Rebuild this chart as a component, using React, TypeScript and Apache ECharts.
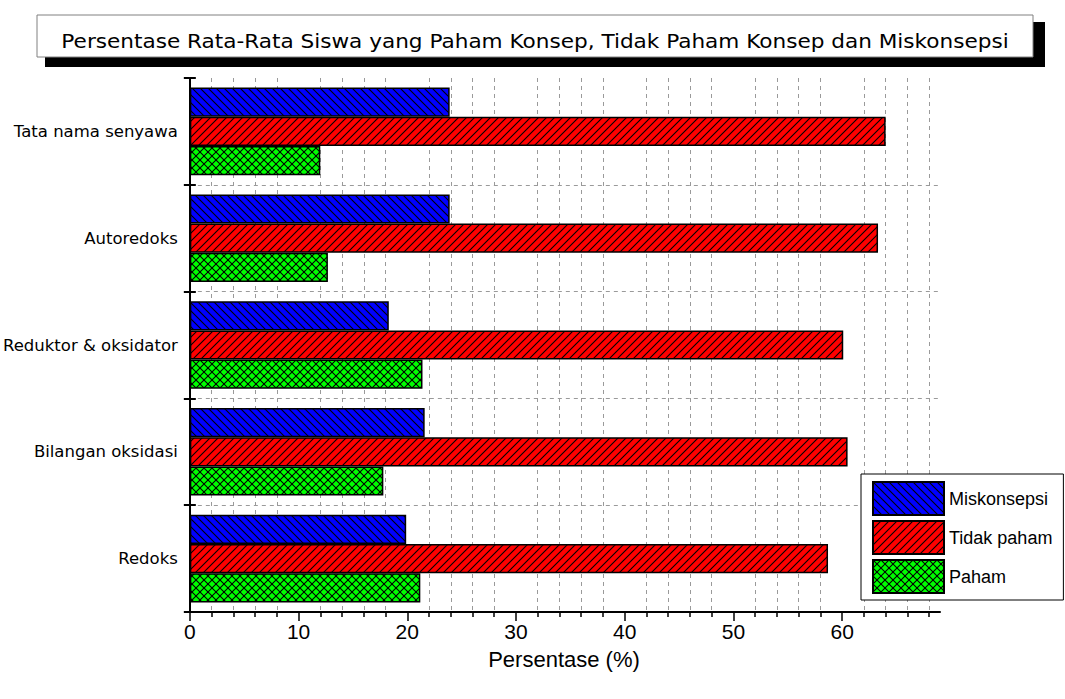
import React, { useEffect, useRef } from "react";
import * as echarts from "echarts";

const categories = ["Redoks", "Bilangan oksidasi", "Reduktor & oksidator", "Autoredoks", "Tata nama senyawa"];
const miskonsepsi = [19.9, 21.6, 18.3, 23.9, 23.9];
const tidakPaham = [58.7, 60.5, 60.1, 63.3, 64.0];
const paham = [21.2, 17.8, 21.4, 12.7, 12.0];
const seriesNames = ["Miskonsepsi", "Tidak paham", "Paham"];
const majorTicks = [0, 10, 20, 30, 40, 50, 60];
const minorTicks = [2, 4, 6, 8, 12, 14, 16, 18, 22, 24, 26, 28, 32, 34, 36, 38, 42, 44, 46, 48, 52, 54, 56, 58, 62, 64, 66, 68];
const titleText = "Persentase Rata-Rata Siswa yang Paham Konsep, Tidak Paham Konsep dan Miskonsepsi";
const xAxisTitle = "Persentase (%)";

function makeHatch(bg: string, kind: "back" | "fwd" | "cross") {
  const s = 8;
  const c = document.createElement("canvas");
  c.width = s;
  c.height = s;
  const ctx = c.getContext("2d")!;
  ctx.fillStyle = bg;
  ctx.fillRect(0, 0, s, s);
  ctx.strokeStyle = "#000";
  ctx.lineWidth = 1.1;
  const back = () => {
    for (const k of [-s, 0, s]) {
      ctx.beginPath();
      ctx.moveTo(-2, -2 + k);
      ctx.lineTo(s + 2, s + 2 + k);
      ctx.stroke();
    }
  };
  const fwd = () => {
    for (const k of [-s, 0, s]) {
      ctx.beginPath();
      ctx.moveTo(-2, s + 2 + k);
      ctx.lineTo(s + 2, -2 + k);
      ctx.stroke();
    }
  };
  if (kind === "back" || kind === "cross") back();
  if (kind === "fwd" || kind === "cross") fwd();
  return { image: c, repeat: "repeat" } as any;
}

export default function App() {
  const ref = useRef<HTMLDivElement>(null);
  useEffect(() => {
    if (!ref.current) return;
    const chart = echarts.init(ref.current, null, { renderer: "svg" });
    const bluePat = makeHatch("#0000ff", "back");
    const redPat = makeHatch("#ff0000", "fwd");
    const greenPat = makeHatch("#00ff00", "cross");
    const grid = "#9a9a9a";
    const mk = (name: string, data: number[], color: any) => ({
      type: "bar",
      name,
      data,
      xAxisIndex: 2,
      yAxisIndex: 0,
      barGap: "0%",
      barCategoryGap: "18%",
      itemStyle: { color, borderColor: "#000", borderWidth: 1.5 },
      emphasis: { disabled: true },
    });
    const baseX = { type: "value", min: 0, max: 69, position: "bottom", gridIndex: 0 };
    chart.setOption({
      animation: false,
      grid: { left: 188, right: 125, top: 78, bottom: 87, containLabel: false },
      legend: {
        orient: "vertical",
        left: 861,
        top: 474,
        data: seriesNames,
        backgroundColor: "#fff",
        borderColor: "#000",
        borderWidth: 1,
        borderRadius: 0,
        padding: [7, 11, 6, 11],
        itemWidth: 71,
        itemHeight: 33,
        itemGap: 4,
        icon: "rect",
        selectedMode: false,
        itemStyle: { borderColor: "#000", borderWidth: 2 },
        textStyle: { fontFamily: "Liberation Sans", fontSize: 18, color: "#000" },
      },
      xAxis: [
        {
          ...baseX,
          interval: 2,
          axisLine: { show: false },
          axisTick: { show: false },
          axisLabel: { show: false },
          splitLine: {
            show: true,
            showMinLine: true,
            showMaxLine: true,
            lineStyle: { color: ["transparent", grid, grid, grid, grid], type: [4, 4], width: 1 },
          },
        },
        {
          ...baseX,
          interval: 2,
          axisLine: { show: false },
          axisTick: { show: true, length: 5, customValues: minorTicks, lineStyle: { color: "#000", width: 1.5 } },
          axisLabel: { show: false },
          splitLine: { show: false },
        },
        {
          ...baseX,
          interval: 10,
          axisLine: { show: true, onZero: false, lineStyle: { color: "#000", width: 2 } },
          axisTick: { show: true, length: 9, customValues: majorTicks, lineStyle: { color: "#000", width: 1.5 } },
          axisLabel: {
            show: true,
            customValues: majorTicks,
            margin: 9,
            color: "#000",
            fontFamily: "Liberation Sans",
            fontSize: 21,
          },
          splitLine: { show: false },
        },
      ],
      yAxis: [
        {
          type: "category",
          data: categories,
          position: "left",
          axisLine: { show: true, onZero: false, lineStyle: { color: "#000", width: 2 } },
          axisTick: { show: true, length: 6, lineStyle: { color: "#000", width: 2 } },
          axisLabel: { margin: 12, color: "#000", fontFamily: "DejaVu Sans", fontSize: 16.5 },
          splitLine: {
            show: true,
            lineStyle: { color: ["transparent", grid, grid, grid, grid, "transparent"], type: [4, 4], width: 1 },
          },
        },
        {
          type: "category",
          data: categories,
          position: "left",
          axisLine: { show: false },
          axisTick: { show: true, inside: true, length: 6, lineStyle: { color: "#000", width: 2 } },
          axisLabel: { show: false },
          splitLine: { show: false },
        },
      ],
      graphic: [
        { type: "rect", shape: { x: 45, y: 22, width: 1000, height: 45 }, style: { fill: "#000" }, z: 10 },
        {
          type: "rect",
          shape: { x: 37, y: 15, width: 996, height: 42 },
          style: { fill: "#fff", stroke: "#808080", lineWidth: 1 },
          z: 11,
        },
        {
          type: "text",
          x: 535,
          y: 41,
          scaleX: 1.08,
          z: 12,
          style: {
            text: titleText,
            fontFamily: "DejaVu Sans",
            fontSize: 20,
            fill: "#000",
            textAlign: "center",
            textVerticalAlign: "middle",
          },
        },
        {
          type: "text",
          x: 564,
          y: 659,
          z: 12,
          style: {
            text: xAxisTitle,
            fontFamily: "Liberation Sans",
            fontSize: 22,
            fill: "#000",
            textAlign: "center",
            textVerticalAlign: "middle",
          },
        },
      ],
      series: [mk("Miskonsepsi", miskonsepsi, bluePat), mk("Tidak paham", tidakPaham, redPat), mk("Paham", paham, greenPat)],
    });
    return () => chart.dispose();
  }, []);
  return (
    <div
      ref={ref}
      style={{ position: "fixed", left: 0, top: 0, width: 1065, height: 699, background: "#fff" }}
    />
  );
}
